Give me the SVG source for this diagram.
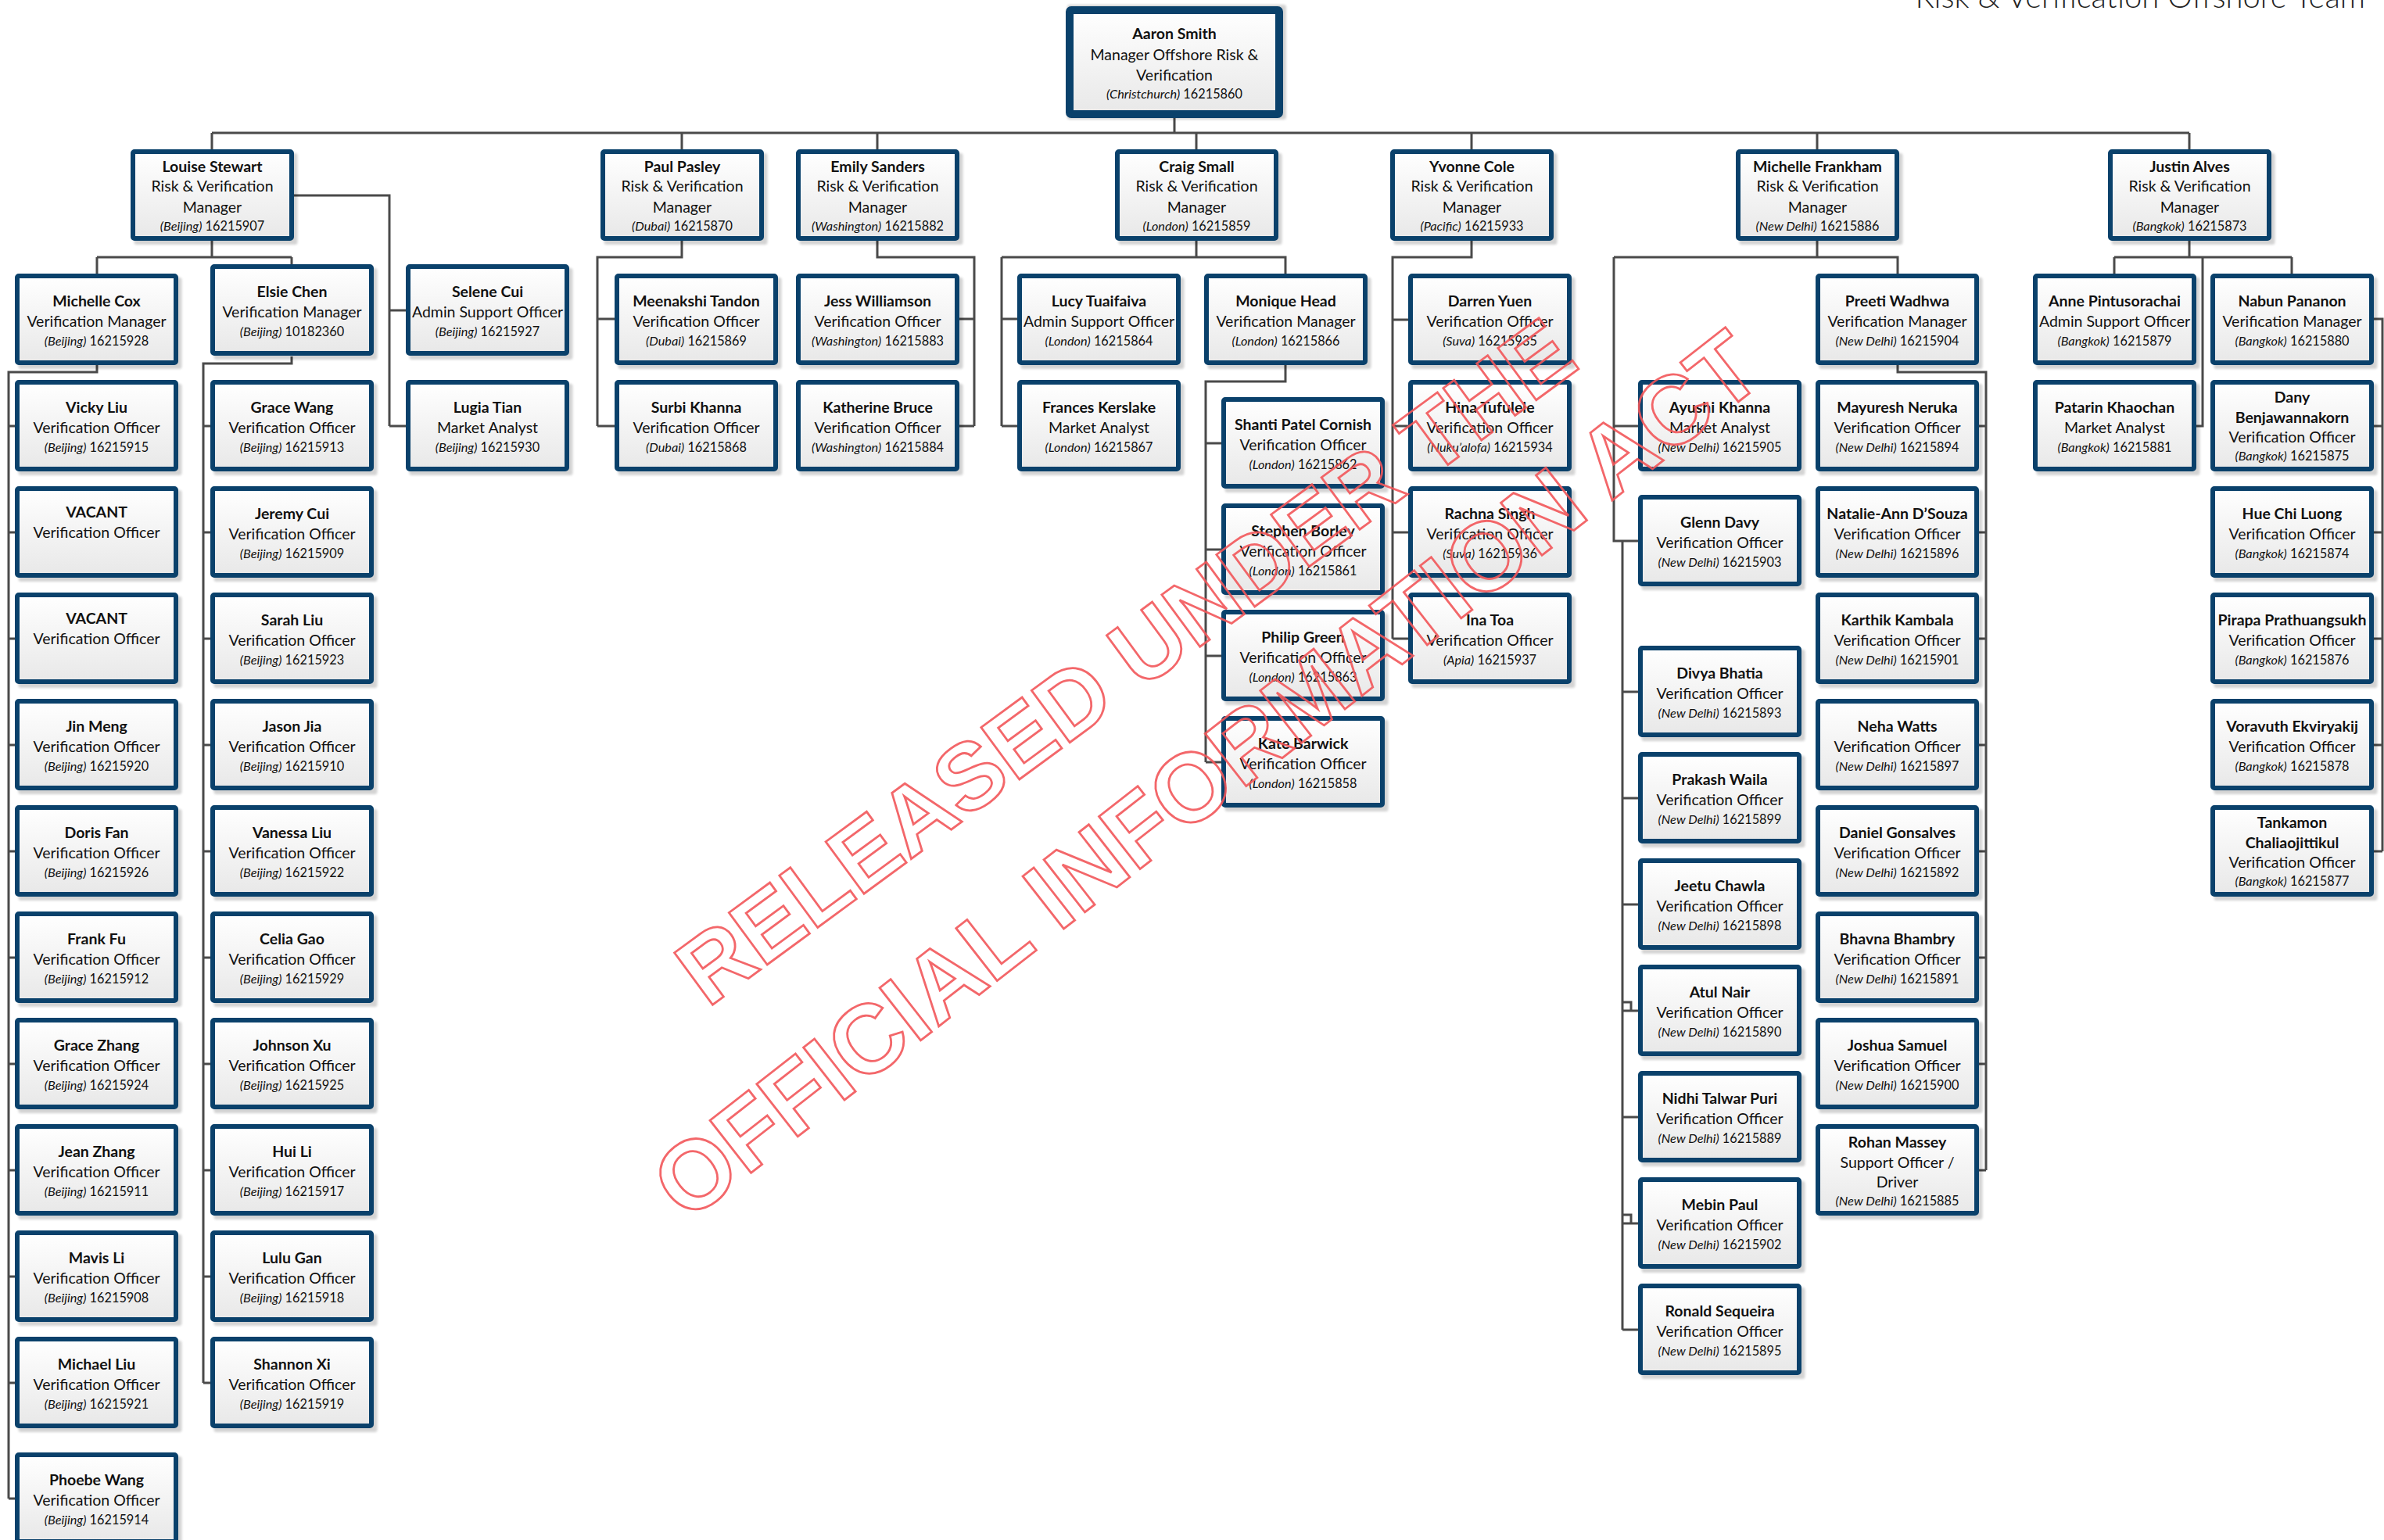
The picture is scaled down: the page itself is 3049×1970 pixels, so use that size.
<svg xmlns="http://www.w3.org/2000/svg" xmlns:xlink="http://www.w3.org/1999/xlink" width="3049" height="1970" viewBox="0 0 3049 1970">
<style>
text{font-family:Lato,"Liberation Sans",sans-serif;fill:#111;text-anchor:middle}
.n{font-size:19.5px;font-weight:700}
.t{font-size:19.5px}
.l{font-size:16.3px}
.l tspan{font-style:italic}
.c{fill:url(#gf);stroke:#0a416b;stroke-width:6}
.c2{fill:url(#gf);stroke:#0a416b;stroke-width:10}
.sh{fill:#000;opacity:.17}
.ttl{font-size:40px;font-weight:300;text-anchor:end;fill:#222}
.wm text{fill:none;stroke:#f2575a;stroke-width:2.8;font-family:"Liberation Sans",Arial,sans-serif;font-weight:700;text-anchor:start}
</style>
<defs>
<linearGradient id="gf" x1="0" y1="0" x2="0" y2="1"><stop offset="0" stop-color="#ffffff"/><stop offset="1" stop-color="#e8e8e8"/></linearGradient>
<filter id="bl" x="-10%" y="-10%" width="120%" height="120%"><feGaussianBlur stdDeviation="1.6"/></filter>
<g id="card"><rect class="sh" filter="url(#bl)" x="-100" y="5" width="209" height="117" rx="3"/><rect class="c" x="-101.5" y="3" width="203" height="111" rx="2"/></g>
</defs>
<rect width="3049" height="1970" fill="#fff"/>
<text class="ttl" x="3025" y="10">Risk &amp; Verification Offshore Team</text>

<g id="connectors" fill="none" stroke="#4a4a4a" stroke-width="3">
<path d="M1502,151V170M271,170H2800M271,170V191M872,170V191M1122,170V191M1530,170V191M1882,170V191M2324,170V191M2800,170V191"/>
<path d="M271,308V329M124,329H373M124,329V350M373,329V338M376,250H498V545M498,397H519M498,545H519"/>
<path d="M124,467V476H11V1917M11,545H19M11,681H19M11,817H19M11,953H19M11,1089H19M11,1225H19M11,1361H19M11,1497H19M11,1633H19M11,1769H19M11,1917H19"/>
<path d="M373,456V465H260V1769M260,545H269M260,681H269M260,817H269M260,953H269M260,1089H269M260,1225H269M260,1361H269M260,1497H269M260,1633H269M260,1769H269"/>
<path d="M872,308V329H764V545M764,408H786M764,545H786"/>
<path d="M1122,308V329H1246V545M1246,408H1226M1246,545H1226"/>
<path d="M1530,308V329M1281,329H1644V350M1281,329V545M1281,408H1301M1281,545H1301"/>
<path d="M1644,467V488H1542V975M1542,567H1562M1542,703H1562M1542,839H1562M1542,975H1562"/>
<path d="M1882,308V329H1781V817M1781,409H1801M1781,545H1801M1781,681H1801M1781,817H1801"/>
<path d="M2324,308V329M2064,329H2427V350M2064,329V692H2095M2064,545H2095"/>
<path d="M2075,692V1701M2075,885H2095M2075,1021H2095M2075,1157H2095M2075,1282H2086V1293M2075,1293H2095M2075,1429H2095M2075,1554H2086V1565M2075,1565H2095M2075,1701H2095"/>
<path d="M2427,467V476H2540V1497M2540,545H2531M2540,681H2531M2540,817H2531M2540,953H2531M2540,1089H2531M2540,1225H2531M2540,1361H2531M2540,1497H2531"/>
<path d="M2800,308V329M2704,329H2931M2704,329V350M2931,329V350M2817,329V545H2808"/>
<path d="M3035,408H3047V1089M3035,545H3047M3035,681H3047M3035,817H3047M3035,953H3047M3035,1089H3047"/>
</g>

<g id="n-aaron-smith" transform="translate(1502,8)"><rect class="sh" filter="url(#bl)" x="-137" y="-2" width="280" height="147" rx="3"/><rect class="c2" x="-134" y="5" width="268" height="133" rx="2"/><text class="n" y="42">Aaron Smith</text><text class="t" y="69">Manager Offshore Risk &amp;</text><text class="t" y="95">Verification</text><text class="l" y="117.5"><tspan>(Christchurch)</tspan> 16215860</text></g>

<g id="n-louise-stewart" transform="translate(271.5,191)"><use href="#card"/><text class="n" y="29">Louise Stewart</text><text class="t" y="54">Risk &amp; Verification</text><text class="t" y="81">Manager</text><text class="l" y="103.5"><tspan>(Beijing)</tspan> 16215907</text></g>
<g id="n-paul-pasley" transform="translate(872.5,191)"><use href="#card"/><text class="n" y="29">Paul Pasley</text><text class="t" y="54">Risk &amp; Verification</text><text class="t" y="81">Manager</text><text class="l" y="103.5"><tspan>(Dubai)</tspan> 16215870</text></g>
<g id="n-emily-sanders" transform="translate(1122.5,191)"><use href="#card"/><text class="n" y="29">Emily Sanders</text><text class="t" y="54">Risk &amp; Verification</text><text class="t" y="81">Manager</text><text class="l" y="103.5"><tspan>(Washington)</tspan> 16215882</text></g>
<g id="n-craig-small" transform="translate(1530.5,191)"><use href="#card"/><text class="n" y="29">Craig Small</text><text class="t" y="54">Risk &amp; Verification</text><text class="t" y="81">Manager</text><text class="l" y="103.5"><tspan>(London)</tspan> 16215859</text></g>
<g id="n-yvonne-cole" transform="translate(1882.5,191)"><use href="#card"/><text class="n" y="29">Yvonne Cole</text><text class="t" y="54">Risk &amp; Verification</text><text class="t" y="81">Manager</text><text class="l" y="103.5"><tspan>(Pacific)</tspan> 16215933</text></g>
<g id="n-michelle-frankham" transform="translate(2324.5,191)"><use href="#card"/><text class="n" y="29">Michelle Frankham</text><text class="t" y="54">Risk &amp; Verification</text><text class="t" y="81">Manager</text><text class="l" y="103.5"><tspan>(New Delhi)</tspan> 16215886</text></g>
<g id="n-justin-alves" transform="translate(2800.5,191)"><use href="#card"/><text class="n" y="29">Justin Alves</text><text class="t" y="54">Risk &amp; Verification</text><text class="t" y="81">Manager</text><text class="l" y="103.5"><tspan>(Bangkok)</tspan> 16215873</text></g>

<g id="n-michelle-cox" transform="translate(123.5,350)"><use href="#card"/><text class="n" y="42">Michelle Cox</text><text class="t" y="68">Verification Manager</text><text class="l" y="91.5"><tspan>(Beijing)</tspan> 16215928</text></g>
<g id="n-vicky-liu" transform="translate(123.5,486)"><use href="#card"/><text class="n" y="42">Vicky Liu</text><text class="t" y="68">Verification Officer</text><text class="l" y="91.5"><tspan>(Beijing)</tspan> 16215915</text></g>
<g id="n-vacant-1" transform="translate(123.5,622)"><use href="#card"/><text class="n" y="40">VACANT</text><text class="t" y="66">Verification Officer</text></g>
<g id="n-vacant-2" transform="translate(123.5,758)"><use href="#card"/><text class="n" y="40">VACANT</text><text class="t" y="66">Verification Officer</text></g>
<g id="n-jin-meng" transform="translate(123.5,894)"><use href="#card"/><text class="n" y="42">Jin Meng</text><text class="t" y="68">Verification Officer</text><text class="l" y="91.5"><tspan>(Beijing)</tspan> 16215920</text></g>
<g id="n-doris-fan" transform="translate(123.5,1030)"><use href="#card"/><text class="n" y="42">Doris Fan</text><text class="t" y="68">Verification Officer</text><text class="l" y="91.5"><tspan>(Beijing)</tspan> 16215926</text></g>
<g id="n-frank-fu" transform="translate(123.5,1166)"><use href="#card"/><text class="n" y="42">Frank Fu</text><text class="t" y="68">Verification Officer</text><text class="l" y="91.5"><tspan>(Beijing)</tspan> 16215912</text></g>
<g id="n-grace-zhang" transform="translate(123.5,1302)"><use href="#card"/><text class="n" y="42">Grace Zhang</text><text class="t" y="68">Verification Officer</text><text class="l" y="91.5"><tspan>(Beijing)</tspan> 16215924</text></g>
<g id="n-jean-zhang" transform="translate(123.5,1438)"><use href="#card"/><text class="n" y="42">Jean Zhang</text><text class="t" y="68">Verification Officer</text><text class="l" y="91.5"><tspan>(Beijing)</tspan> 16215911</text></g>
<g id="n-mavis-li" transform="translate(123.5,1574)"><use href="#card"/><text class="n" y="42">Mavis Li</text><text class="t" y="68">Verification Officer</text><text class="l" y="91.5"><tspan>(Beijing)</tspan> 16215908</text></g>
<g id="n-michael-liu" transform="translate(123.5,1710)"><use href="#card"/><text class="n" y="42">Michael Liu</text><text class="t" y="68">Verification Officer</text><text class="l" y="91.5"><tspan>(Beijing)</tspan> 16215921</text></g>
<g id="n-phoebe-wang" transform="translate(123.5,1858)"><use href="#card"/><text class="n" y="42">Phoebe Wang</text><text class="t" y="68">Verification Officer</text><text class="l" y="91.5"><tspan>(Beijing)</tspan> 16215914</text></g>

<g id="n-elsie-chen" transform="translate(373.5,338)"><use href="#card"/><text class="n" y="42">Elsie Chen</text><text class="t" y="68">Verification Manager</text><text class="l" y="91.5"><tspan>(Beijing)</tspan> 10182360</text></g>
<g id="n-grace-wang" transform="translate(373.5,486)"><use href="#card"/><text class="n" y="42">Grace Wang</text><text class="t" y="68">Verification Officer</text><text class="l" y="91.5"><tspan>(Beijing)</tspan> 16215913</text></g>
<g id="n-jeremy-cui" transform="translate(373.5,622)"><use href="#card"/><text class="n" y="42">Jeremy Cui</text><text class="t" y="68">Verification Officer</text><text class="l" y="91.5"><tspan>(Beijing)</tspan> 16215909</text></g>
<g id="n-sarah-liu" transform="translate(373.5,758)"><use href="#card"/><text class="n" y="42">Sarah Liu</text><text class="t" y="68">Verification Officer</text><text class="l" y="91.5"><tspan>(Beijing)</tspan> 16215923</text></g>
<g id="n-jason-jia" transform="translate(373.5,894)"><use href="#card"/><text class="n" y="42">Jason Jia</text><text class="t" y="68">Verification Officer</text><text class="l" y="91.5"><tspan>(Beijing)</tspan> 16215910</text></g>
<g id="n-vanessa-liu" transform="translate(373.5,1030)"><use href="#card"/><text class="n" y="42">Vanessa Liu</text><text class="t" y="68">Verification Officer</text><text class="l" y="91.5"><tspan>(Beijing)</tspan> 16215922</text></g>
<g id="n-celia-gao" transform="translate(373.5,1166)"><use href="#card"/><text class="n" y="42">Celia Gao</text><text class="t" y="68">Verification Officer</text><text class="l" y="91.5"><tspan>(Beijing)</tspan> 16215929</text></g>
<g id="n-johnson-xu" transform="translate(373.5,1302)"><use href="#card"/><text class="n" y="42">Johnson Xu</text><text class="t" y="68">Verification Officer</text><text class="l" y="91.5"><tspan>(Beijing)</tspan> 16215925</text></g>
<g id="n-hui-li" transform="translate(373.5,1438)"><use href="#card"/><text class="n" y="42">Hui Li</text><text class="t" y="68">Verification Officer</text><text class="l" y="91.5"><tspan>(Beijing)</tspan> 16215917</text></g>
<g id="n-lulu-gan" transform="translate(373.5,1574)"><use href="#card"/><text class="n" y="42">Lulu Gan</text><text class="t" y="68">Verification Officer</text><text class="l" y="91.5"><tspan>(Beijing)</tspan> 16215918</text></g>
<g id="n-shannon-xi" transform="translate(373.5,1710)"><use href="#card"/><text class="n" y="42">Shannon Xi</text><text class="t" y="68">Verification Officer</text><text class="l" y="91.5"><tspan>(Beijing)</tspan> 16215919</text></g>

<g id="n-selene-cui" transform="translate(623.5,338)"><use href="#card"/><text class="n" y="42">Selene Cui</text><text class="t" y="68">Admin Support Officer</text><text class="l" y="91.5"><tspan>(Beijing)</tspan> 16215927</text></g>
<g id="n-lugia-tian" transform="translate(623.5,486)"><use href="#card"/><text class="n" y="42">Lugia Tian</text><text class="t" y="68">Market Analyst</text><text class="l" y="91.5"><tspan>(Beijing)</tspan> 16215930</text></g>

<g id="n-meenakshi-tandon" transform="translate(890.5,350)"><use href="#card"/><text class="n" y="42">Meenakshi Tandon</text><text class="t" y="68">Verification Officer</text><text class="l" y="91.5"><tspan>(Dubai)</tspan> 16215869</text></g>
<g id="n-surbi-khanna" transform="translate(890.5,486)"><use href="#card"/><text class="n" y="42">Surbi Khanna</text><text class="t" y="68">Verification Officer</text><text class="l" y="91.5"><tspan>(Dubai)</tspan> 16215868</text></g>
<g id="n-jess-williamson" transform="translate(1122.5,350)"><use href="#card"/><text class="n" y="42">Jess Williamson</text><text class="t" y="68">Verification Officer</text><text class="l" y="91.5"><tspan>(Washington)</tspan> 16215883</text></g>
<g id="n-katherine-bruce" transform="translate(1122.5,486)"><use href="#card"/><text class="n" y="42">Katherine Bruce</text><text class="t" y="68">Verification Officer</text><text class="l" y="91.5"><tspan>(Washington)</tspan> 16215884</text></g>

<g id="n-lucy-tuaifaiva" transform="translate(1405.5,350)"><use href="#card"/><text class="n" y="42">Lucy Tuaifaiva</text><text class="t" y="68">Admin Support Officer</text><text class="l" y="91.5"><tspan>(London)</tspan> 16215864</text></g>
<g id="n-frances-kerslake" transform="translate(1405.5,486)"><use href="#card"/><text class="n" y="42">Frances Kerslake</text><text class="t" y="68">Market Analyst</text><text class="l" y="91.5"><tspan>(London)</tspan> 16215867</text></g>
<g id="n-monique-head" transform="translate(1644.5,350)"><use href="#card"/><text class="n" y="42">Monique Head</text><text class="t" y="68">Verification Manager</text><text class="l" y="91.5"><tspan>(London)</tspan> 16215866</text></g>
<g id="n-shanti-patel-cornish" transform="translate(1666.5,508)"><use href="#card"/><text class="n" y="42">Shanti Patel Cornish</text><text class="t" y="68">Verification Officer</text><text class="l" y="91.5"><tspan>(London)</tspan> 16215862</text></g>
<g id="n-stephen-borley" transform="translate(1666.5,644)"><use href="#card"/><text class="n" y="42">Stephen Borley</text><text class="t" y="68">Verification Officer</text><text class="l" y="91.5"><tspan>(London)</tspan> 16215861</text></g>
<g id="n-philip-green" transform="translate(1666.5,780)"><use href="#card"/><text class="n" y="42">Philip Green</text><text class="t" y="68">Verification Officer</text><text class="l" y="91.5"><tspan>(London)</tspan> 16215863</text></g>
<g id="n-kate-barwick" transform="translate(1666.5,916)"><use href="#card"/><text class="n" y="42">Kate Barwick</text><text class="t" y="68">Verification Officer</text><text class="l" y="91.5"><tspan>(London)</tspan> 16215858</text></g>

<g id="n-darren-yuen" transform="translate(1905.5,350)"><use href="#card"/><text class="n" y="42">Darren Yuen</text><text class="t" y="68">Verification Officer</text><text class="l" y="91.5"><tspan>(Suva)</tspan> 16215935</text></g>
<g id="n-hina-tufulele" transform="translate(1905.5,486)"><use href="#card"/><text class="n" y="42">Hina Tufulele</text><text class="t" y="68">Verification Officer</text><text class="l" y="91.5"><tspan>(Nuku’alofa)</tspan> 16215934</text></g>
<g id="n-rachna-singh" transform="translate(1905.5,622)"><use href="#card"/><text class="n" y="42">Rachna Singh</text><text class="t" y="68">Verification Officer</text><text class="l" y="91.5"><tspan>(Suva)</tspan> 16215936</text></g>
<g id="n-ina-toa" transform="translate(1905.5,758)"><use href="#card"/><text class="n" y="42">Ina Toa</text><text class="t" y="68">Verification Officer</text><text class="l" y="91.5"><tspan>(Apia)</tspan> 16215937</text></g>

<g id="n-ayushi-khanna" transform="translate(2199.5,486)"><use href="#card"/><text class="n" y="42">Ayushi Khanna</text><text class="t" y="68">Market Analyst</text><text class="l" y="91.5"><tspan>(New Delhi)</tspan> 16215905</text></g>
<g id="n-glenn-davy" transform="translate(2199.5,633)"><use href="#card"/><text class="n" y="42">Glenn Davy</text><text class="t" y="68">Verification Officer</text><text class="l" y="91.5"><tspan>(New Delhi)</tspan> 16215903</text></g>
<g id="n-divya-bhatia" transform="translate(2199.5,826)"><use href="#card"/><text class="n" y="42">Divya Bhatia</text><text class="t" y="68">Verification Officer</text><text class="l" y="91.5"><tspan>(New Delhi)</tspan> 16215893</text></g>
<g id="n-prakash-waila" transform="translate(2199.5,962)"><use href="#card"/><text class="n" y="42">Prakash Waila</text><text class="t" y="68">Verification Officer</text><text class="l" y="91.5"><tspan>(New Delhi)</tspan> 16215899</text></g>
<g id="n-jeetu-chawla" transform="translate(2199.5,1098)"><use href="#card"/><text class="n" y="42">Jeetu Chawla</text><text class="t" y="68">Verification Officer</text><text class="l" y="91.5"><tspan>(New Delhi)</tspan> 16215898</text></g>
<g id="n-atul-nair" transform="translate(2199.5,1234)"><use href="#card"/><text class="n" y="42">Atul Nair</text><text class="t" y="68">Verification Officer</text><text class="l" y="91.5"><tspan>(New Delhi)</tspan> 16215890</text></g>
<g id="n-nidhi-talwar-puri" transform="translate(2199.5,1370)"><use href="#card"/><text class="n" y="42">Nidhi Talwar Puri</text><text class="t" y="68">Verification Officer</text><text class="l" y="91.5"><tspan>(New Delhi)</tspan> 16215889</text></g>
<g id="n-mebin-paul" transform="translate(2199.5,1506)"><use href="#card"/><text class="n" y="42">Mebin Paul</text><text class="t" y="68">Verification Officer</text><text class="l" y="91.5"><tspan>(New Delhi)</tspan> 16215902</text></g>
<g id="n-ronald-sequeira" transform="translate(2199.5,1642)"><use href="#card"/><text class="n" y="42">Ronald Sequeira</text><text class="t" y="68">Verification Officer</text><text class="l" y="91.5"><tspan>(New Delhi)</tspan> 16215895</text></g>

<g id="n-preeti-wadhwa" transform="translate(2426.5,350)"><use href="#card"/><text class="n" y="42">Preeti Wadhwa</text><text class="t" y="68">Verification Manager</text><text class="l" y="91.5"><tspan>(New Delhi)</tspan> 16215904</text></g>
<g id="n-mayuresh-neruka" transform="translate(2426.5,486)"><use href="#card"/><text class="n" y="42">Mayuresh Neruka</text><text class="t" y="68">Verification Officer</text><text class="l" y="91.5"><tspan>(New Delhi)</tspan> 16215894</text></g>
<g id="n-natalie-ann-dsouza" transform="translate(2426.5,622)"><use href="#card"/><text class="n" y="42">Natalie-Ann D’Souza</text><text class="t" y="68">Verification Officer</text><text class="l" y="91.5"><tspan>(New Delhi)</tspan> 16215896</text></g>
<g id="n-karthik-kambala" transform="translate(2426.5,758)"><use href="#card"/><text class="n" y="42">Karthik Kambala</text><text class="t" y="68">Verification Officer</text><text class="l" y="91.5"><tspan>(New Delhi)</tspan> 16215901</text></g>
<g id="n-neha-watts" transform="translate(2426.5,894)"><use href="#card"/><text class="n" y="42">Neha Watts</text><text class="t" y="68">Verification Officer</text><text class="l" y="91.5"><tspan>(New Delhi)</tspan> 16215897</text></g>
<g id="n-daniel-gonsalves" transform="translate(2426.5,1030)"><use href="#card"/><text class="n" y="42">Daniel Gonsalves</text><text class="t" y="68">Verification Officer</text><text class="l" y="91.5"><tspan>(New Delhi)</tspan> 16215892</text></g>
<g id="n-bhavna-bhambry" transform="translate(2426.5,1166)"><use href="#card"/><text class="n" y="42">Bhavna Bhambry</text><text class="t" y="68">Verification Officer</text><text class="l" y="91.5"><tspan>(New Delhi)</tspan> 16215891</text></g>
<g id="n-joshua-samuel" transform="translate(2426.5,1302)"><use href="#card"/><text class="n" y="42">Joshua Samuel</text><text class="t" y="68">Verification Officer</text><text class="l" y="91.5"><tspan>(New Delhi)</tspan> 16215900</text></g>
<g id="n-rohan-massey" transform="translate(2426.5,1438)"><use href="#card"/><text class="n" y="30">Rohan Massey</text><text class="t" y="56">Support Officer /</text><text class="t" y="81">Driver</text><text class="l" y="103.5"><tspan>(New Delhi)</tspan> 16215885</text></g>

<g id="n-anne-pintusorachai" transform="translate(2704.5,350)"><use href="#card"/><text class="n" y="42">Anne Pintusorachai</text><text class="t" y="68">Admin Support Officer</text><text class="l" y="91.5"><tspan>(Bangkok)</tspan> 16215879</text></g>
<g id="n-patarin-khaochan" transform="translate(2704.5,486)"><use href="#card"/><text class="n" y="42">Patarin Khaochan</text><text class="t" y="68">Market Analyst</text><text class="l" y="91.5"><tspan>(Bangkok)</tspan> 16215881</text></g>
<g id="n-nabun-pananon" transform="translate(2931.5,350)"><use href="#card"/><text class="n" y="42">Nabun Pananon</text><text class="t" y="68">Verification Manager</text><text class="l" y="91.5"><tspan>(Bangkok)</tspan> 16215880</text></g>
<g id="n-dany-benjawannakorn" transform="translate(2931.5,486)"><use href="#card"/><text class="n" y="29">Dany</text><text class="n" y="54.5">Benjawannakorn</text><text class="t" y="80">Verification Officer</text><text class="l" y="102.5"><tspan>(Bangkok)</tspan> 16215875</text></g>
<g id="n-hue-chi-luong" transform="translate(2931.5,622)"><use href="#card"/><text class="n" y="42">Hue Chi Luong</text><text class="t" y="68">Verification Officer</text><text class="l" y="91.5"><tspan>(Bangkok)</tspan> 16215874</text></g>
<g id="n-pirapa-prathuangsukh" transform="translate(2931.5,758)"><use href="#card"/><text class="n" y="42">Pirapa Prathuangsukh</text><text class="t" y="68">Verification Officer</text><text class="l" y="91.5"><tspan>(Bangkok)</tspan> 16215876</text></g>
<g id="n-voravuth-ekviryakij" transform="translate(2931.5,894)"><use href="#card"/><text class="n" y="42">Voravuth Ekviryakij</text><text class="t" y="68">Verification Officer</text><text class="l" y="91.5"><tspan>(Bangkok)</tspan> 16215878</text></g>
<g id="n-tankamon-chaliaojittikul" transform="translate(2931.5,1030)"><use href="#card"/><text class="n" y="29">Tankamon</text><text class="n" y="54.5">Chaliaojittikul</text><text class="t" y="80">Verification Officer</text><text class="l" y="102.5"><tspan>(Bangkok)</tspan> 16215877</text></g>

<g class="wm" id="watermark" opacity="0.9">
<text transform="translate(905,1290) rotate(-36.3)" font-size="120">RELEASED UNDER THE</text>
<text transform="translate(878,1565) rotate(-38)" font-size="124">OFFICIAL INFORMATION ACT</text>
</g>
</svg>
